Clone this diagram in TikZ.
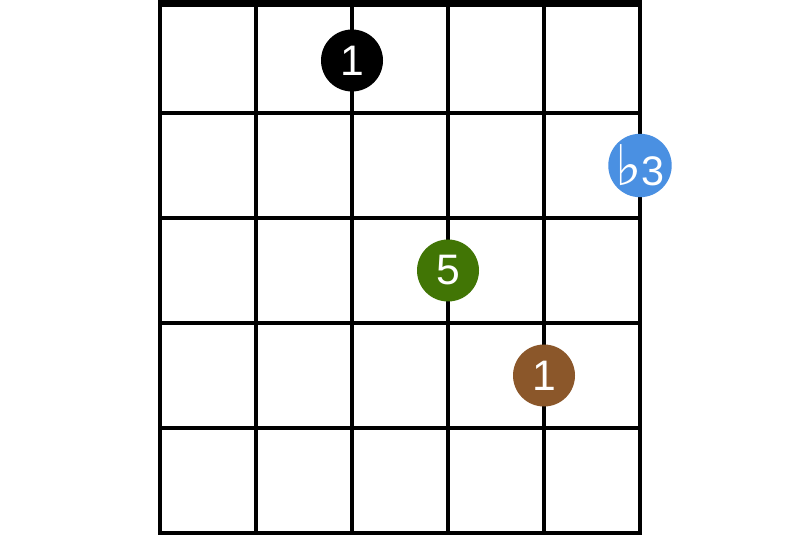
\documentclass[tikz,border=0pt]{standalone}
\usepackage{fontspec}
\setsansfont{Liberation Sans}
\newfontfamily\flatfont{DejaVu Sans}
\usetikzlibrary{positioning}

\begin{document}
\begin{tikzpicture}[x=0.75pt, y=-0.75pt, font=\sffamily]
  \definecolor{ink}{HTML}{000000}
  \definecolor{blue}{HTML}{4A90E2}
  \definecolor{green}{HTML}{417505}
  \definecolor{brown}{HTML}{8B572A}
  \tikzset{
    dot/.style={circle, fill=#1, text=white, minimum size=46.5pt, inner sep=0pt,
      font=\sffamily\fontsize{32}{32}\selectfont},
    wire/.style={draw=ink, line width=3pt}
  }
  \useasboundingbox (0,0) rectangle (800,545);
  \fill[white] (0,0) rectangle (800,545);

  % strings
  \foreach \x in {160,256,352,448,544,640}
    \draw[wire] (\x,6) -- (\x,535);
  % frets
  \foreach \y in {113,218,323,428,533}
    \draw[wire] (158,\y) -- (642,\y);
  % nut
  \fill[ink] (158,0) rectangle (642,7);

  \node[dot=ink] (root) at (352,60.5) {1};
  \node[dot=blue, font=\sffamily\fontsize{31}{31}\selectfont] (third) at (640,165.5)
    {{\flatfont\fontsize{42}{42}\selectfont ♭}\kern-1pt3};
  \node[dot=green] (fifth) at (448,270.5) {5};
  \node[dot=brown] (octave) at (544,375.5) {1};
\end{tikzpicture}
\end{document}
